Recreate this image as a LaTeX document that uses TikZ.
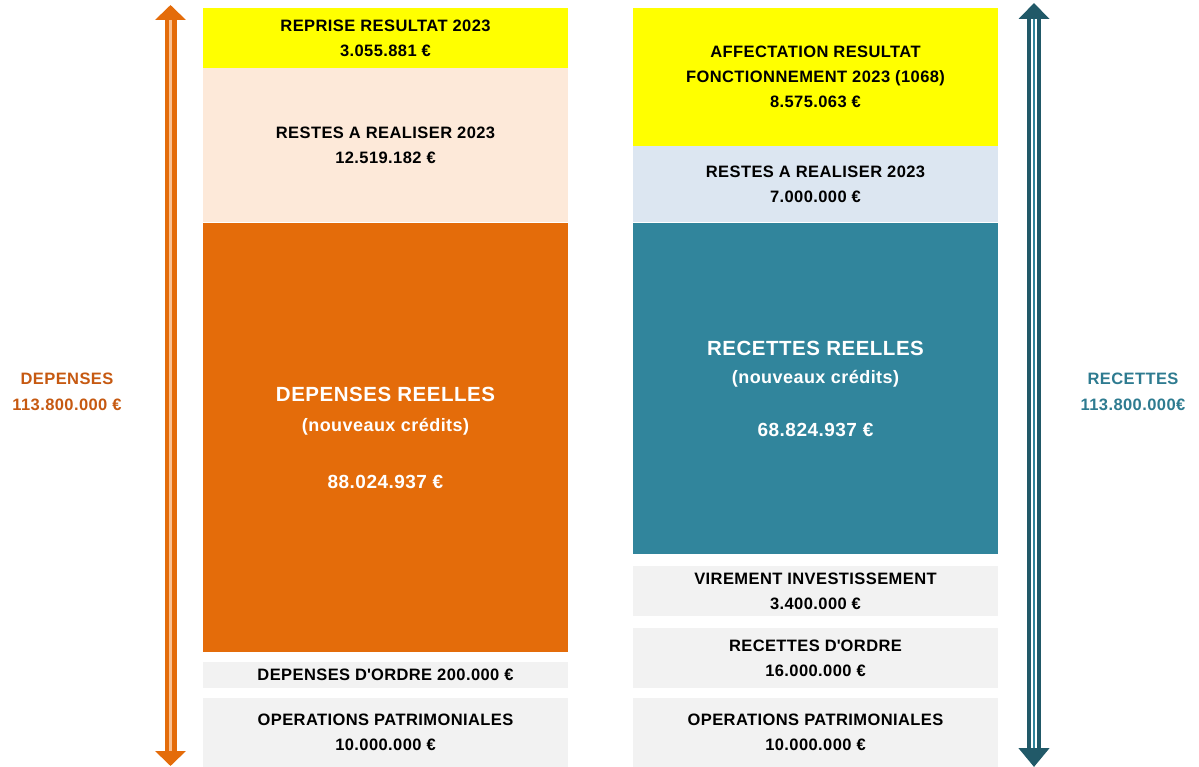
\documentclass[tikz,border=0pt]{standalone}
\usepackage{fontspec}
\setmainfont{Liberation Sans}[LetterSpace=2.5]
\usetikzlibrary{arrows.meta,calc}
\definecolor{orangeA}{HTML}{E46C0A}
\definecolor{orangeL}{HTML}{FAC090}
\definecolor{peach}{HTML}{FDE9D9}
\definecolor{tealB}{HTML}{31859C}
\definecolor{tealA}{HTML}{215968}
\definecolor{bluegray}{HTML}{DCE6F1}
\definecolor{grayL}{HTML}{F2F2F2}
\definecolor{yel}{HTML}{FFFF00}
\definecolor{labelO}{HTML}{C65911}
\definecolor{labelT}{HTML}{2E7B90}
\begin{document}
\begin{tikzpicture}[x=1pt,y=-1pt,
  box/.style={anchor=north west, minimum width=365, inner sep=0, outer sep=0,
    align=center, font=\bfseries\fontsize{16.5}{25}\selectfont},
  side/.style={align=center, inner sep=0, font=\bfseries\fontsize{16.5}{26}\selectfont},
  big/.style={box, text=white}
]
\useasboundingbox (0,0) rectangle (1199,767);
% left column
\node[box, fill=yel, minimum height=60] (rep) at (203,8) {REPRISE RESULTAT 2023\\3.055.881 €};
\node[box, fill=peach, minimum height=154] (rarD) at (203,68) {RESTES A REALISER 2023\\12.519.182 €};
\node[big, fill=orangeA, minimum height=429] (depR) at (203,223)
  {{\fontsize{20.5}{20}\selectfont DEPENSES REELLES}\\[5pt]{\fontsize{18}{20}\selectfont (nouveaux crédits)}\\[32pt]{\fontsize{19}{20}\selectfont 88.024.937 €}};
\node[box, fill=grayL, minimum height=26] (depO) at (203,662) {DEPENSES D\textquotesingle ORDRE 200.000 €};
\node[box, fill=grayL, minimum height=69] (opD) at (203,698) {OPERATIONS PATRIMONIALES\\10.000.000 €};
% right column
\node[box, fill=yel, minimum height=138] (aff) at (633,8) {AFFECTATION RESULTAT\\FONCTIONNEMENT 2023 (1068)\\8.575.063 €};
\node[box, fill=bluegray, minimum height=76] (rarR) at (633,146) {RESTES A REALISER 2023\\7.000.000 €};
\node[big, fill=tealB, minimum height=331] (recR) at (633,223)
  {{\fontsize{20.5}{20}\selectfont RECETTES REELLES}\\[3pt]{\fontsize{18}{20}\selectfont (nouveaux crédits)}\\[28pt]{\fontsize{19}{20}\selectfont 68.824.937 €}};
\node[box, fill=grayL, minimum height=50] (vir) at (633,566) {VIREMENT INVESTISSEMENT\\3.400.000 €};
\node[box, fill=grayL, minimum height=60] (recO) at (633,628) {RECETTES D\textquotesingle ORDRE\\16.000.000 €};
\node[box, fill=grayL, minimum height=69] (opR) at (633,698) {OPERATIONS PATRIMONIALES\\10.000.000 €};
% side labels
\node[side, text=labelO] (lblD) at (67,392) {DEPENSES\\113.800.000 €};
\node[side, text=labelT] (lblR) at (1133,392) {RECETTES\\113.800.000€};
% arrows
\coordinate (oTop) at (170.5,5);
\coordinate (oBot) at (170.5,766);
\draw[orangeA, line width=12pt, {Triangle[width=30pt,length=15pt]}-{Triangle[width=30pt,length=15pt]}] (oTop) -- (oBot);
\draw[orangeL, line width=3pt, shorten <=15pt, shorten >=15pt] (oTop) -- (oBot);
\coordinate (tTop) at (1034,3);
\coordinate (tBot) at (1034,767);
\draw[tealA, line width=14pt, {Triangle[width=30pt,length=16pt]}-{Triangle[width=30pt,length=19pt]}] (tTop) -- (tBot);
\draw[white, line width=6pt, shorten <=16pt, shorten >=19pt] (tTop) -- (tBot);
\draw[tealB, line width=2pt, shorten <=16pt, shorten >=19pt] (tTop) -- (tBot);
\end{tikzpicture}
\end{document}
